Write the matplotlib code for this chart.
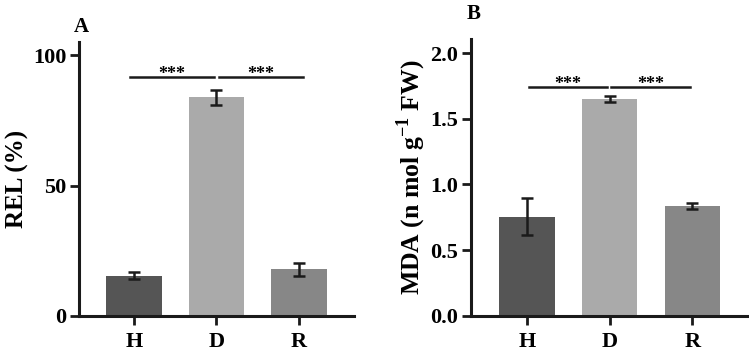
import matplotlib
matplotlib.use("Agg")
import matplotlib.pyplot as plt

groups = ["H", "D", "R"]
rel_vals = [15.5, 83.8, 17.9]
rel_err = [1.2, 2.8, 2.4]
mda_vals = [0.753, 1.653, 0.835]
mda_err = [0.14, 0.022, 0.02]
colors = ["#555555", "#aaaaaa", "#878787"]

plt.rcParams['font.family'] = ['Liberation Serif', 'DejaVu Serif']
plt.rcParams['font.weight'] = 'bold'
plt.rcParams['mathtext.fontset'] = 'custom'
plt.rcParams['mathtext.rm'] = 'Liberation Serif:bold'
plt.rcParams['mathtext.bf'] = 'Liberation Serif:bold'

fig = plt.figure(figsize=(7.49, 3.56), dpi=100)
ax1 = fig.add_axes([0.1055, 0.1124, 0.3671, 0.7696])
ax2 = fig.add_axes([0.6284, 0.1132, 0.3686, 0.7764])

def style(ax):
    for s in ["top", "right"]:
        ax.spines[s].set_visible(False)
    for s in ["left", "bottom"]:
        ax.spines[s].set_linewidth(2.2)
        ax.spines[s].set_color("#1a1a1a")
    ax.tick_params(width=2.0, length=6.5, color="#1a1a1a", labelsize=16)
    ax.tick_params(axis='y', pad=2.5)
    ax.tick_params(axis='x', pad=5, labelsize=16)
    for lab in ax.get_xticklabels() + ax.get_yticklabels():
        lab.set_fontweight('bold')

x = list(range(len(groups)))

# Panel A
ax1.bar(x, rel_vals, width=0.67, color=colors, zorder=2)
ax1.errorbar(x, rel_vals, yerr=rel_err, fmt='none', ecolor="#1a1a1a",
             elinewidth=1.8, capsize=4.5, capthick=1.8, zorder=3)
ax1.set_xlim(-0.667, 2.667)
ax1.set_ylim(0, 105)
ax1.set_yticks([0, 50, 100])
ax1.set_xticks(x)
ax1.set_xticklabels(groups)
ax1.set_ylabel("REL (%)", fontsize=18, fontweight='bold', labelpad=3)
style(ax1)
sig_a = 91.5
ax1.plot([-0.05, 0.97], [sig_a, sig_a], color="#1a1a1a", lw=1.8)
ax1.plot([1.03, 2.05], [sig_a, sig_a], color="#1a1a1a", lw=1.8)
ax1.text(0.46, sig_a - 2.2, "***", ha='center', va='bottom', fontsize=13, fontweight='bold')
ax1.text(1.54, sig_a - 2.2, "***", ha='center', va='bottom', fontsize=13, fontweight='bold')
fig.text(0.109, 0.925, "A", fontsize=15, fontweight='bold', ha='center', va='center')

# Panel B
ax2.bar(x, mda_vals, width=0.67, color=colors, zorder=2)
ax2.errorbar(x, mda_vals, yerr=mda_err, fmt='none', ecolor="#1a1a1a",
             elinewidth=1.8, capsize=4.5, capthick=1.8, zorder=3)
ax2.set_xlim(-0.68, 2.66)
ax2.set_ylim(0, 2.105)
ax2.set_yticks([0.0, 0.5, 1.0, 1.5, 2.0])
ax2.set_yticklabels(["0.0", "0.5", "1.0", "1.5", "2.0"])
ax2.set_xticks(x)
ax2.set_xticklabels(groups)
ax2.set_ylabel(r"MDA (n mol g$^{\mathbf{-1}}$ FW)", fontsize=18.5, fontweight='bold', labelpad=2)
style(ax2)
sig_b = 1.742
ax2.plot([0.02, 0.97], [sig_b, sig_b], color="#1a1a1a", lw=1.8)
ax2.plot([1.02, 1.97], [sig_b, sig_b], color="#1a1a1a", lw=1.8)
ax2.text(0.5, sig_b - 0.044, "***", ha='center', va='bottom', fontsize=13, fontweight='bold')
ax2.text(1.5, sig_b - 0.044, "***", ha='center', va='bottom', fontsize=13, fontweight='bold')
fig.text(0.632, 0.962, "B", fontsize=15, fontweight='bold', ha='center', va='center')

fig.savefig("out.png", dpi=100)
